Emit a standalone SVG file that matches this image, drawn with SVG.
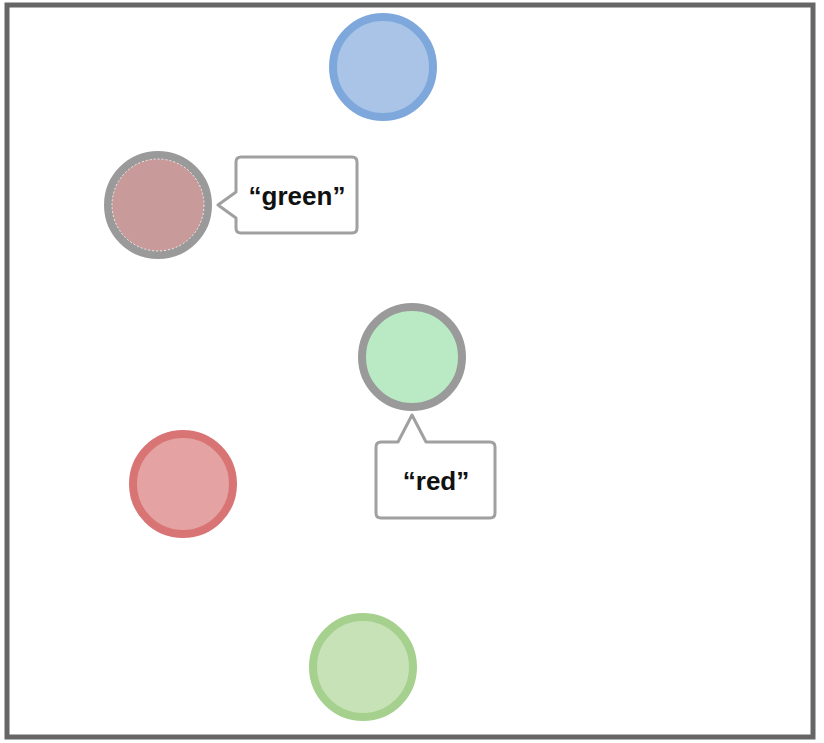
<svg xmlns="http://www.w3.org/2000/svg" width="824" height="743" viewBox="0 0 824 743">
<style>
.node{stroke-width:8}
.callout{fill:#fff;stroke:#a0a0a0;stroke-width:3;stroke-linejoin:round}
.lbl{font-family:"Liberation Sans",Arial,sans-serif;font-weight:bold;font-size:26px;fill:#111;text-anchor:middle}
</style>
<rect x="0" y="0" width="824" height="743" fill="#fff"/>
<rect x="7" y="5" width="806" height="732" fill="#fff" stroke="#666" stroke-width="5"/>
<g id="connectors"></g>
<g id="node-blue"><circle class="node" cx="383" cy="67" r="50" fill="#a9c4e6" stroke="#7ea8dc"/></g>
<g id="node-pink"><circle class="node" cx="158" cy="205" r="50" fill="#c99a9a" stroke="#9a9a9a"/><circle cx="158" cy="205" r="46" fill="none" stroke="#eee" stroke-width="1" stroke-dasharray="2 2"/></g>
<g id="node-lightgreen"><circle class="node" cx="412" cy="357" r="50" fill="#b9eac4" stroke="#9a9a9a"/></g>
<g id="node-red"><circle class="node" cx="183" cy="484" r="50" fill="#e5a2a2" stroke="#d87474"/></g>
<g id="node-green"><circle class="node" cx="363" cy="667" r="50" fill="#c6e2b6" stroke="#a6d08e"/></g>
<g id="callout-green"><path class="callout" d="M241 157 H352 Q357 157 357 162 V228 Q357 233 352 233 H241 Q236 233 236 228 V218 L218 205 L236 192 V162 Q236 157 241 157 Z"/><text class="lbl" x="297" y="205">“green”</text></g>
<g id="callout-red"><path class="callout" d="M381 442 H398 L412 415 L426 442 H490 Q495 442 495 447 V513 Q495 518 490 518 H381 Q376 518 376 513 V447 Q376 442 381 442 Z"/><text class="lbl" x="436" y="490">“red”</text></g>
</svg>
